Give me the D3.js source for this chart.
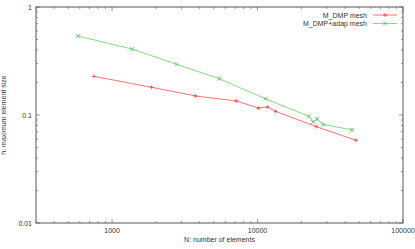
<!DOCTYPE html>
<html>
<head>
<meta charset="utf-8">
<script src="https://cdn.jsdelivr.net/npm/d3@7"></script>
<style>
  body { margin: 0; background: #fff; }
  svg { display: block; font-family: "Liberation Sans", Arial, sans-serif; }
</style>
</head>
<body>
<div class="container"></div>
<script>
const w = 415;
const h = 249;
const margin = { top: 7, bottom: 26, left: 36, right: 12 };
const width = w - margin.left - margin.right;
const height = h - margin.top - margin.bottom;

// N: number of elements, h: maximum element size
const dmpN = [750, 1870, 3750, 7130, 10120, 11740, 13330, 25300, 47500];
const dmpH = [0.228, 0.1805, 0.150, 0.135, 0.116, 0.1186, 0.108, 0.078, 0.0583];
const adapN = [581, 1375, 2770, 5450, 11300, 22530, 24110, 25700, 28260, 44600];
const adapH = [0.539, 0.408, 0.295, 0.217, 0.1415, 0.0973, 0.0862, 0.0918, 0.082, 0.0727];
const seriesNames = ["M_DMP mesh", "M_DMP+adap mesh"];
const xTicks = [1000, 10000, 100000];
const yTicks = [0.01, 0.1, 1];

const series = [
  { name: seriesNames[0], color: "#ff2222", line: "#ff7070", mark: "plus",
    values: dmpN.map((n, i) => ({ n, h: dmpH[i] })) },
  { name: seriesNames[1], color: "#33c033", line: "#80dd80", mark: "cross",
    values: adapN.map((n, i) => ({ n, h: adapH[i] })) }
];

const svg = d3.select('.container').append('svg')
    .attr('width', w)
    .attr('height', h);

const chart = svg.append('g')
    .attr('transform', `translate(${margin.left}, ${margin.top})`);

const x = d3.scaleLog().domain([300, 100000]).range([0, width]);
const y = d3.scaleLog().domain([0.01, 1]).range([height, 0]);

const axisColor = "#555";

// minor ticks
const xMinor = x.ticks().filter(t => !xTicks.includes(t));
const yMinor = y.ticks().filter(t => !yTicks.includes(t));

function tickLines(vals, horiz, len) {
  vals.forEach(v => {
    if (horiz) {
      const px = x(v);
      chart.append('line').attr('x1', px).attr('x2', px).attr('y1', height).attr('y2', height - len)
        .attr('stroke', axisColor).attr('stroke-width', 0.6);
      chart.append('line').attr('x1', px).attr('x2', px).attr('y1', 0).attr('y2', len)
        .attr('stroke', axisColor).attr('stroke-width', 0.6);
    } else {
      const py = y(v);
      chart.append('line').attr('y1', py).attr('y2', py).attr('x1', 0).attr('x2', len)
        .attr('stroke', axisColor).attr('stroke-width', 0.6);
      chart.append('line').attr('y1', py).attr('y2', py).attr('x1', width).attr('x2', width - len)
        .attr('stroke', axisColor).attr('stroke-width', 0.6);
    }
  });
}
tickLines(xMinor, true, 2);
tickLines(xTicks, true, 4);
tickLines(yMinor, false, 2);
tickLines(yTicks, false, 4);

chart.append('rect')
    .attr('width', width)
    .attr('height', height)
    .attr('fill', 'none')
    .attr('stroke', axisColor)
    .attr('stroke-width', 1);

chart.selectAll('.xlab')
    .data(xTicks)
    .enter()
    .append('text')
      .attr('x', d => x(d))
      .attr('y', height + 10)
      .attr('text-anchor', 'middle')
      .style('font-size', '7px')
      .attr('fill', '#333')
      .text(d => d);

chart.selectAll('.ylab')
    .data(yTicks)
    .enter()
    .append('text')
      .attr('x', -4)
      .attr('y', d => y(d) + 2.5)
      .attr('text-anchor', 'end')
      .style('font-size', '7px')
      .attr('fill', '#333')
      .text(d => d);

svg.append('text')
    .attr('x', margin.left + width / 2)
    .attr('y', 242)
    .attr('text-anchor', 'middle')
    .style('font-size', '7px')
    .attr('fill', '#333')
    .text('N: number of elements');

svg.append('text')
    .attr('transform', `translate(6, ${margin.top + height / 2}) rotate(-90)`)
    .attr('text-anchor', 'middle')
    .style('font-size', '7px')
    .attr('fill', '#333')
    .text('h: maximum element size');

const line = d3.line().x(d => x(d.n)).y(d => y(d.h));

function marker(g, kind, cx, cy, color) {
  const s = 2;
  if (kind === "plus") {
    g.append('path').attr('d', `M${cx - s},${cy}H${cx + s}M${cx},${cy - s}V${cy + s}`)
      .attr('stroke', color).attr('stroke-width', 0.7);
  } else {
    g.append('path').attr('d', `M${cx - s},${cy - s}L${cx + s},${cy + s}M${cx - s},${cy + s}L${cx + s},${cy - s}`)
      .attr('stroke', color).attr('stroke-width', 0.7);
  }
}

series.forEach((s, i) => {
  const g = chart.append('g');
  g.append('path')
      .datum(s.values)
      .attr('d', line)
      .attr('fill', 'none')
      .attr('stroke', s.line)
      .attr('stroke-width', 1);
  s.values.forEach(d => marker(g, s.mark, x(d.n), y(d.h), s.color));

  // legend
  const ly = 8 + i * 8.5;
  chart.append('text')
      .attr('x', 331)
      .attr('y', ly + 2.5)
      .attr('text-anchor', 'end')
      .style('font-size', '7px')
      .attr('fill', '#333')
      .text(s.name);
  chart.append('line')
      .attr('x1', 337).attr('x2', 361)
      .attr('y1', ly).attr('y2', ly)
      .attr('stroke', s.line).attr('stroke-width', 1);
  marker(chart, s.mark, 349, ly, s.color);
});
</script>
</body>
</html>
